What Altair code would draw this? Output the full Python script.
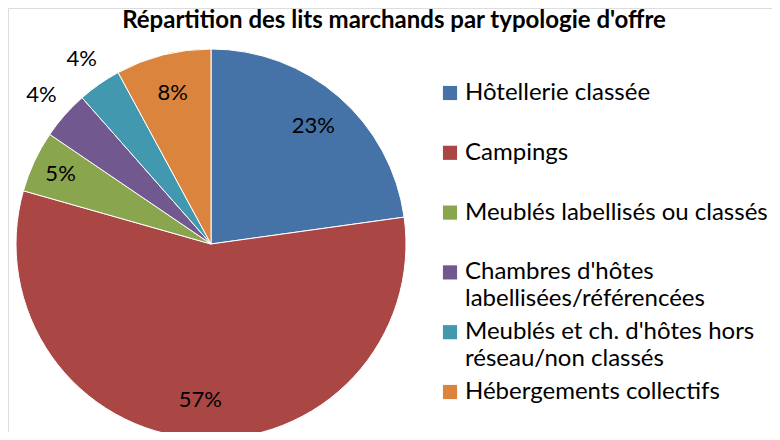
import altair as alt
import pandas as pd

categories = [
    "Hôtellerie classée",
    "Campings",
    "Meublés labellisés ou classés",
    "Chambres d'hôtes labellisées/référencées",
    "Meublés et ch. d'hôtes hors réseau/non classés",
    "Hébergements collectifs",
]
legend_labels = [
    "Hôtellerie classée",
    "Campings",
    "Meublés labellisés ou classés",
    "Chambres d'hôtes\nlabellisées/référencées",
    "Meublés et ch. d'hôtes hors\nréseau/non classés",
    "Hébergements collectifs",
]
values = [22.8, 56.6, 5.1, 4.0, 3.6, 7.9]
pct_labels = ["23%", "57%", "5%", "4%", "4%", "8%"]
colors = ["#4572A7", "#AA4643", "#89A54E", "#71588F", "#4198AF", "#DB843D"]

df = pd.DataFrame({
    "cat": categories,
    "legend": legend_labels,
    "value": values,
    "label": pct_labels,
    "order": list(range(len(categories))),
})

FONT = "Lato"
cx, cy, R = 203, 236, 195

color = alt.Color("cat:N", scale=alt.Scale(domain=categories, range=colors), legend=None)

base = alt.Chart(df).transform_joinaggregate(
    total="sum(value)"
).transform_window(
    cum="sum(value)", sort=[alt.SortField("order")], frame=[None, 0]
).transform_calculate(
    t0="(datum.cum - datum.value) / datum.total * 2 * PI",
    t1="datum.cum / datum.total * 2 * PI",
    tm="(datum.cum - datum.value / 2) / datum.total * 2 * PI",
    r="datum.value < 4.5 ? 226 : (datum.value < 6 ? 166 : 156)",
)

arcs = base.mark_arc(outerRadius=R, stroke="white", strokeWidth=1).encode(
    theta=alt.Theta("t0:Q", scale=None),
    theta2="t1:Q",
    color=color,
    x=alt.value(cx),
    y=alt.value(cy),
)

texts = base.mark_text(font=FONT, fontSize=22, color="black").encode(
    theta=alt.Theta("tm:Q", scale=None),
    radius=alt.Radius("r:Q", scale=None),
    text="label:N",
    x=alt.value(cx),
    y=alt.value(cy),
)

leg_y = alt.Y("order:Q", scale=alt.Scale(domain=[0, 5], range=[85, 384]), axis=None)

leg_sq = alt.Chart(df).mark_square(size=200, opacity=1).encode(
    x=alt.value(442),
    y=leg_y,
    color=color,
)

leg_txt = alt.Chart(df).mark_text(
    font=FONT, fontSize=24, align="left", baseline="middle", lineBreak="\n", lineHeight=27, color="black"
).encode(
    x=alt.value(457),
    y=leg_y,
    text="legend:N",
)

title = alt.Chart(pd.DataFrame({"t": ["Répartition des lits marchands par typologie d'offre"]})).mark_text(
    font=FONT, fontSize=24, fontWeight="bold", align="center", baseline="alphabetic", color="black"
).encode(x=alt.value(386), y=alt.value(20), text="t:N")

chart = alt.layer(arcs, texts, leg_sq, leg_txt, title).properties(
    width=764, height=424, autosize=alt.AutoSizeParams(type="none"), padding=0
).configure_view(stroke=None).configure(background="white")

chart.save("out.html", embed_options={"renderer": "svg", "actions": False})
